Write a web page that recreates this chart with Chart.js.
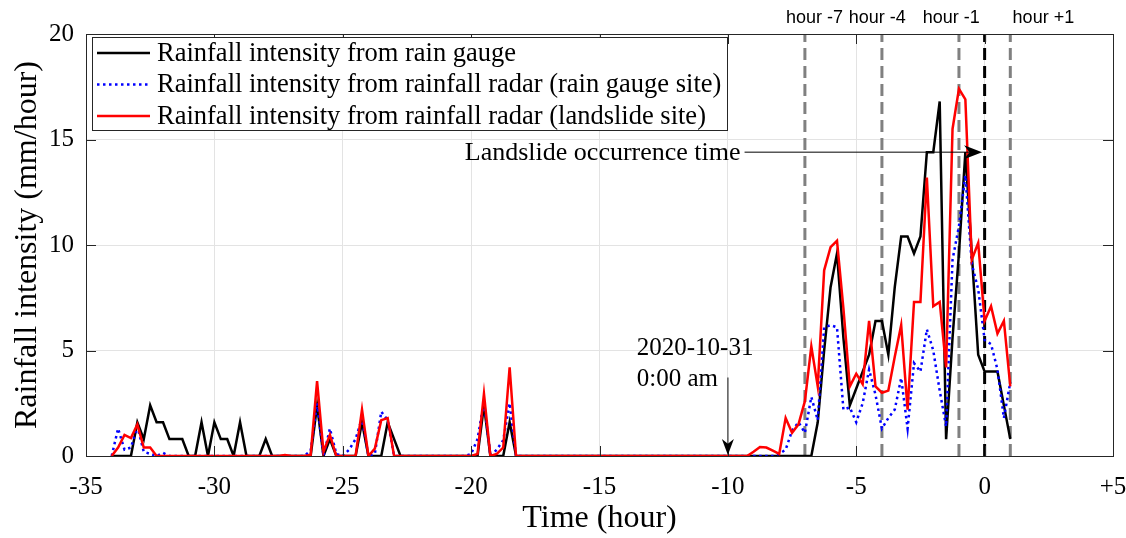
<!DOCTYPE html>
<html>
<head>
<meta charset="utf-8">
<script src="https://cdn.jsdelivr.net/npm/chart.js@4.4.1/dist/chart.umd.min.js"></script>
<style>
  html, body { margin:0; padding:0; background:#fff; }
</style>
</head>
<body>
<canvas id="chart" width="1126" height="538"></canvas>
<script>
// time axis: one reading every 15 minutes, from hour -34 to hour +1
const startHour = -34;
const stepHour = 0.25;

// rain gauge (mm/hour)
const gauge = [
  0,0,0,0,1.6,0.8,2.4,1.6,1.6,0.8, 0.8,0.8,0,0,1.6,0,1.6,0.8,0.8,0,
  1.6,0,0,0,0.8,0,0,0,0,0, 0,0,2.4,0,0.8,0,0,0,0,1.6,
  0,0,0,1.6,0.8,0,0,0,0,0, 0,0,0,0,0,0,0,0,2.4,0,
  0,0,1.6,0,0,0,0,0,0,0, 0,0,0,0,0,0,0,0,0,0,
  0,0,0,0,0,0,0,0,0,0, 0,0,0,0,0,0,0,0,0,0,
  0,0,0,0,0,0,0,0,0,0, 1.6,5.0,8.0,9.6,5.6,2.4,3.2,4.0,4.8,6.4,
  6.4,4.8,8.0,10.4,10.4,9.6,10.4,14.4,14.4,16.8, 0.8,5.6,9.6,14.4,9.6,4.8,4.0,4.0,4.0,2.4,
  0.8
];

// rainfall radar at the rain gauge site (mm/hour)
const radarGauge = [
  0,1.3,0.3,0.4,1.4,0.2,0.1,0,0.15,0, 0,0,0,0,0,0,0,0,0,0,
  0,0,0,0,0,0,0,0,0,0, 0,0.25,2.5,0,1.3,0.1,0,0.3,0.8,1.8,
  0,0.1,2.1,1.7,0,0,0,0,0,0, 0,0,0,0,0,0,0.1,0.8,2.6,0,
  0.3,0.75,2.5,0,0,0,0,0,0,0, 0,0,0,0,0,0,0,0,0,0,
  0,0,0,0,0,0,0,0,0,0, 0,0,0,0,0,0,0,0,0,0,
  0,0,0,0,0.1,0.3,1.2,1.6,1.1,2.8, 1.7,6.1,6.2,6.1,2.2,2.3,1.6,2.5,4.1,2.9,
  1.3,1.8,2.2,3.7,1.3,4.4,4.0,6.0,5.0,3.1, 1.4,9.3,10.9,13.3,9.1,7.9,5.5,5.3,4.1,1.8,
  3.5
];

// rainfall radar at the landslide site (mm/hour)
const radarSlide = [
  0,0.4,1.0,0.85,1.5,0.4,0.4,0,0,0, 0,0,0,0,0,0,0,0,0,0,
  0,0,0,0,0,0,0,0.05,0,0, 0,0.05,3.55,0.2,1.0,0,0,0,0,2.2,
  0,0.35,1.7,1.8,0,0,0,0,0,0, 0,0,0,0,0,0,0,0.1,2.95,0,
  0.1,0.4,4.2,0,0,0,0,0,0,0, 0,0,0,0,0,0,0,0,0,0,
  0,0,0,0,0,0,0,0,0,0, 0,0,0,0,0,0,0,0,0,0,
  0.2,0.43,0.4,0.25,0.1,1.8,1.1,1.5,2.6,5.2, 3.3,8.8,9.9,10.2,7.0,3.3,3.9,3.4,6.4,3.3,
  3.0,3.1,4.7,6.2,2.2,7.3,7.3,13.2,7.1,7.3, 4.2,15.5,17.4,16.9,9.3,10.1,6.4,7.1,5.8,6.4,
  3.3
];

const hourMarks = [-7, -4, -1, 1];
const hourLabels = ["hour -7", "hour -4", "hour -1", "hour +1"];
const hourLabelStart = [-7.74, -5.29, -2.41, 1.09]; // left edge of each label (hours)
const landslideHour = 0;
const xTicks = [-35, -30, -25, -20, -15, -10, -5, 0, 5];
const yTicks = [0, 5, 10, 15, 20];

const legendNames = [
  "Rainfall intensity from rain gauge",
  "Rainfall intensity from rainfall radar (rain gauge site)",
  "Rainfall intensity from rainfall radar (landslide site)"
];

// annotation anchors (data units)
const landslideArrow = { fromX: -9.35, toX: -0.1, y: 14.4, text: "Landslide occurrence time" };
const dateArrow = { x: -10, fromY: 3.72, toY: 0, textX: -13.55, line1Y: 4.78, line2Y: 3.31, line1: "2020-10-31", line2: "0:00 am" };

const SERIF = "'Liberation Serif', 'Times New Roman', serif";

function toPoints(vals){
  return vals.map((v, i) => ({ x: startHour + i * stepHour, y: v }));
}
function vline(x, color, order){
  return {
    data: [{x: x, y: 0}, {x: x, y: 20}],
    borderColor: color, borderWidth: 3, borderDash: [12, 6],
    pointRadius: 0, order: order
  };
}

const series = [
  { label: legendNames[0], data: toPoints(gauge), borderColor: "#000000", borderWidth: 2.5, pointRadius: 0, order: 3 },
  { label: legendNames[1], data: toPoints(radarGauge), borderColor: "#0000ff", borderWidth: 2.5, borderDash: [2.5, 3.5], pointRadius: 0, order: 2 },
  { label: legendNames[2], data: toPoints(radarSlide), borderColor: "#ff0000", borderWidth: 2.5, pointRadius: 0, order: 1 }
];
const marks = hourMarks.map(h => vline(h, "#808080", 6));
marks.push(vline(landslideHour, "#000000", 5));

function arrowHead(ctx, x, y, angle, len, half){
  ctx.save();
  ctx.translate(x, y);
  ctx.rotate(angle);
  ctx.beginPath();
  ctx.moveTo(0, 0);
  ctx.lineTo(-len, -half);
  ctx.lineTo(-len * 0.7, 0);
  ctx.lineTo(-len, half);
  ctx.closePath();
  ctx.fill();
  ctx.restore();
}

const decor = {
  id: "decor",
  afterDraw(chart){
    const ctx = chart.ctx, a = chart.chartArea;
    const xs = chart.scales.x, ys = chart.scales.y;
    ctx.save();

    // inward ticks + box
    ctx.strokeStyle = "#262626";
    ctx.lineWidth = 1;
    ctx.beginPath();
    xTicks.forEach(t => {
      const px = Math.round(xs.getPixelForValue(t)) + 0.5;
      ctx.moveTo(px, a.bottom); ctx.lineTo(px, a.bottom - 10);
      ctx.moveTo(px, a.top); ctx.lineTo(px, a.top + 10);
    });
    yTicks.forEach(t => {
      const py = Math.round(ys.getPixelForValue(t)) + 0.5;
      ctx.moveTo(a.left, py); ctx.lineTo(a.left + 10, py);
      ctx.moveTo(a.right, py); ctx.lineTo(a.right - 10, py);
    });
    ctx.stroke();
    ctx.strokeRect(Math.round(a.left) + 0.5, Math.round(a.top) + 0.5, Math.round(a.right - a.left), Math.round(a.bottom - a.top));

    // hour labels above the plot
    ctx.fillStyle = "#000";
    ctx.font = "18px 'Liberation Sans', Arial, sans-serif";
    ctx.textAlign = "left";
    ctx.textBaseline = "middle";
    hourLabels.forEach((t, i) => ctx.fillText(t, xs.getPixelForValue(hourLabelStart[i]), 18));

    // landslide arrow
    const ly = ys.getPixelForValue(landslideArrow.y);
    const lx0 = xs.getPixelForValue(landslideArrow.fromX), lx1 = xs.getPixelForValue(landslideArrow.toX);
    ctx.strokeStyle = "#000";
    ctx.beginPath(); ctx.moveTo(lx0, ly); ctx.lineTo(lx1 - 10, ly); ctx.stroke();
    ctx.fillStyle = "#000";
    arrowHead(ctx, lx1, ly, 0, 18, 7);
    ctx.font = "26px " + SERIF;
    ctx.textAlign = "right";
    ctx.textBaseline = "middle";
    ctx.fillText(landslideArrow.text, lx0 - 4, ly + 1);

    // date arrow
    const dx = xs.getPixelForValue(dateArrow.x);
    const dy0 = ys.getPixelForValue(dateArrow.fromY), dy1 = ys.getPixelForValue(dateArrow.toY);
    ctx.strokeStyle = "#595959";
    ctx.lineWidth = 1.5;
    ctx.beginPath(); ctx.moveTo(dx, dy0); ctx.lineTo(dx, dy1 - 10); ctx.stroke();
    ctx.fillStyle = "#000";
    arrowHead(ctx, dx, dy1 - 1, Math.PI / 2, 16, 6);
    ctx.font = "25px " + SERIF;
    ctx.textAlign = "left";
    ctx.textBaseline = "alphabetic";
    const tx = xs.getPixelForValue(dateArrow.textX);
    ctx.fillText(dateArrow.line1, tx, ys.getPixelForValue(dateArrow.line1Y));
    ctx.fillText(dateArrow.line2, tx, ys.getPixelForValue(dateArrow.line2Y));

    // legend box inside the plot
    const bx = a.left + 6, by = a.top + 3, bw = 635, bh = 93;
    ctx.fillStyle = "#fff";
    ctx.fillRect(bx, by, bw, bh);
    ctx.strokeStyle = "#262626";
    ctx.lineWidth = 1;
    ctx.strokeRect(Math.round(bx) + 0.5, Math.round(by) + 0.5, bw, bh);
    ctx.font = "26.5px " + SERIF;
    ctx.textAlign = "left";
    ctx.textBaseline = "middle";
    series.forEach((s, i) => {
      const ry = by + 16 + i * 31.5;
      ctx.strokeStyle = s.borderColor;
      ctx.lineWidth = 2.5;
      ctx.setLineDash(s.borderDash || []);
      ctx.beginPath(); ctx.moveTo(bx + 5, ry); ctx.lineTo(bx + 58, ry); ctx.stroke();
      ctx.setLineDash([]);
      ctx.fillStyle = "#000";
      ctx.fillText(s.label, bx + 65, ry + 1);
    });
    ctx.restore();
  }
};

new Chart(document.getElementById("chart"), {
  type: "line",
  data: { datasets: series.concat(marks) },
  options: {
    responsive: false,
    animation: false,
    layout: { padding: { top: 34, right: 13, left: 0, bottom: 0 } },
    plugins: { legend: { display: false }, tooltip: { enabled: false } },
    elements: { line: { tension: 0 } },
    scales: {
      x: {
        type: "linear", min: -35, max: 5,
        afterBuildTicks: s => { s.ticks = xTicks.map(v => ({ value: v })); },
        afterFit: s => { s.height = 82; s.paddingLeft = 0; s.paddingRight = 0; },
        grid: { color: "#e3e3e3", drawTicks: false },
        border: { color: "#262626" },
        ticks: {
          padding: 16, color: "#000",
          font: { family: SERIF, size: 25 },
          callback: v => v > 0 ? "+" + v : String(v)
        },
        title: { display: true, text: "Time (hour)", color: "#000", font: { family: SERIF, size: 32 }, padding: { top: 0, bottom: 0 } }
      },
      y: {
        min: 0, max: 20,
        afterBuildTicks: s => { s.ticks = yTicks.map(v => ({ value: v })); },
        afterFit: s => { s.width = 86; s.paddingTop = 0; s.paddingBottom = 0; },
        grid: { color: "#e3e3e3", drawTicks: false },
        border: { color: "#262626" },
        ticks: { padding: 12, color: "#000", font: { family: SERIF, size: 25 } },
        title: { display: true, text: "Rainfall intensity (mm/hour)", color: "#000", font: { family: SERIF, size: 32 }, padding: { top: 8, bottom: 0 } }
      }
    }
  },
  plugins: [decor]
});
</script>
</body>
</html>
